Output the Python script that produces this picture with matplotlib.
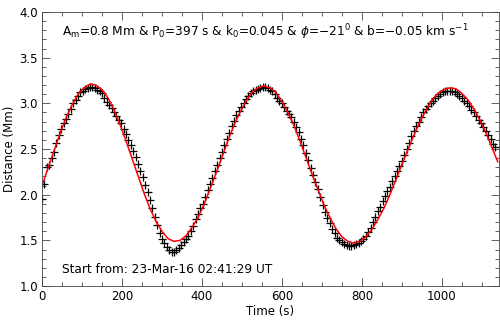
"""Distance-time track with fitted oscillation."""

import numpy as np
import matplotlib

matplotlib.use("Agg")
import matplotlib.pyplot as plt
from matplotlib.ticker import MultipleLocator

# observed track, one point every 6 s from t = 0
cadence = 6.0
distance = [
    1.95, 2.12, 2.30, 2.33, 2.40, 2.47, 2.57, 2.65, 2.72, 2.78,
    2.83, 2.88, 2.94, 3.00, 3.04, 3.08, 3.12, 3.14, 3.16, 3.17,
    3.18, 3.18, 3.17, 3.15, 3.13, 3.11, 3.06, 3.02, 2.98, 2.95,
    2.90, 2.86, 2.82, 2.78, 2.72, 2.66, 2.60, 2.54, 2.48, 2.41,
    2.34, 2.26, 2.19, 2.11, 2.03, 1.94, 1.85, 1.76, 1.67, 1.58,
    1.52, 1.47, 1.43, 1.40, 1.37, 1.37, 1.39, 1.42, 1.45, 1.48,
    1.51, 1.55, 1.60, 1.66, 1.73, 1.79, 1.85, 1.90, 1.97, 2.05,
    2.12, 2.18, 2.26, 2.33, 2.40, 2.47, 2.54, 2.61, 2.68, 2.75,
    2.81, 2.87, 2.92, 2.96, 3.00, 3.05, 3.08, 3.11, 3.13, 3.15,
    3.16, 3.17, 3.18, 3.18, 3.17, 3.15, 3.13, 3.10, 3.06, 3.03,
    3.00, 2.96, 2.92, 2.88, 2.85, 2.80, 2.74, 2.69, 2.61, 2.54,
    2.46, 2.38, 2.29, 2.22, 2.14, 2.06, 1.98, 1.89, 1.81, 1.75,
    1.69, 1.63, 1.58, 1.53, 1.50, 1.48, 1.46, 1.45, 1.44, 1.44,
    1.45, 1.46, 1.47, 1.49, 1.52, 1.55, 1.59, 1.64, 1.70, 1.76,
    1.82, 1.87, 1.93, 1.99, 2.04, 2.09, 2.15, 2.20, 2.26, 2.31,
    2.37, 2.44, 2.50, 2.57, 2.64, 2.70, 2.75, 2.80, 2.85, 2.90,
    2.94, 2.97, 3.00, 3.03, 3.06, 3.08, 3.10, 3.12, 3.13, 3.14,
    3.14, 3.13, 3.12, 3.10, 3.08, 3.06, 3.03, 3.00, 2.97, 2.93,
    2.90, 2.86, 2.82, 2.78, 2.74, 2.70, 2.65, 2.61, 2.56, 2.52,
]

# fitted curve, sampled every 15 s from t = 0
fit_step = 15.0
fit_distance = [
    2.10, 2.29, 2.48, 2.67, 2.84, 2.98, 3.10, 3.17, 3.21, 3.20,
    3.15, 3.06, 2.93, 2.77, 2.59, 2.40, 2.21, 2.02, 1.85, 1.71,
    1.60, 1.52, 1.49, 1.50, 1.55, 1.64, 1.75, 1.89, 2.06, 2.23,
    2.41, 2.59, 2.76, 2.90, 3.02, 3.12, 3.17, 3.19, 3.17, 3.12,
    3.02, 2.90, 2.76, 2.59, 2.41, 2.23, 2.06, 1.89, 1.75, 1.63,
    1.54, 1.49, 1.47, 1.49, 1.54, 1.62, 1.73, 1.85, 2.00, 2.16,
    2.33, 2.49, 2.65, 2.80, 2.92, 3.03, 3.11, 3.15, 3.17, 3.16,
    3.11, 3.04, 2.94, 2.82, 2.68, 2.52, 2.36,
]

fit_label = (r"A$_{\rm m}$=0.8 Mm & P$_0$=397 s & k$_0$=0.045 & "
             r"$\phi$=$-$21$^0$ & b=$-$0.05 km s$^{-1}$")
start_label = "Start from: 23-Mar-16 02:41:29 UT"


def main() -> None:
    time = np.arange(len(distance)) * cadence
    fit_time = np.arange(len(fit_distance)) * fit_step

    plt.rcParams["font.family"] = "DejaVu Sans"
    plt.rcParams["font.size"] = 8.5
    plt.rcParams["mathtext.fontset"] = "dejavusans"

    fig = plt.figure(figsize=(5.0, 3.24), dpi=100)
    ax = fig.add_axes([0.084, 0.117, 0.914, 0.846])

    ax.plot(time, distance, linestyle="none", marker="+", markersize=5.5,
            markeredgewidth=0.9, color="black")
    ax.plot(fit_time, fit_distance, color="red", linewidth=1.1)

    ax.set_xlim(0, 1143)
    ax.set_ylim(1.0, 4.0)
    ax.xaxis.set_major_locator(MultipleLocator(200))
    ax.xaxis.set_minor_locator(MultipleLocator(50))
    ax.yaxis.set_major_locator(MultipleLocator(0.5))
    ax.yaxis.set_minor_locator(MultipleLocator(0.1))
    ax.yaxis.set_major_formatter(plt.FormatStrFormatter("%.1f"))
    ax.tick_params(which="both", direction="in", top=True, right=True,
                   color="#444444", width=0.6, labelsize=8.5, pad=3)
    ax.tick_params(which="major", length=6)
    ax.tick_params(which="minor", length=3)
    for spine in ax.spines.values():
        spine.set_linewidth(0.6)
        spine.set_color("#444444")

    ax.set_xlabel("Time (s)", fontsize=8.5, labelpad=1)
    ax.set_ylabel("Distance (Mm)", fontsize=8.5, labelpad=2)

    ax.text(50, 3.78, fit_label, fontsize=8.7, va="center", ha="left")
    ax.text(50, 1.18, start_label, fontsize=8.7, va="center", ha="left")

    fig.savefig("out.png", dpi=100)
    plt.close(fig)


if __name__ == "__main__":
    main()
